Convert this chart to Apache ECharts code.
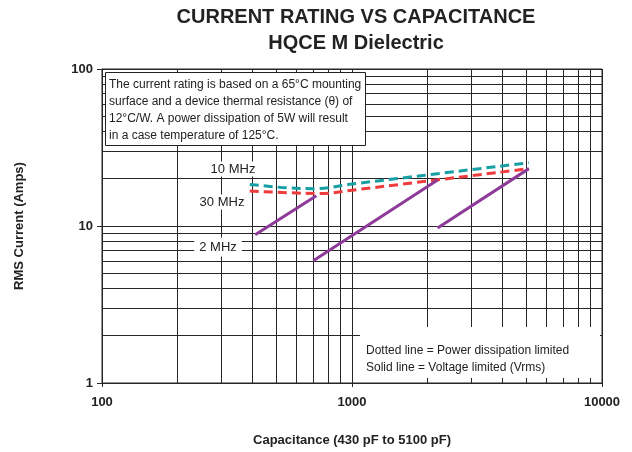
<!DOCTYPE html>
<html>
<head>
<meta charset="UTF-8">
<title>Current rating vs capacitance</title>
<style>
  html, body { margin: 0; padding: 0; background: #fff; }
  #container { width: 632px; height: 452px; }
</style>
</head>
<body>
<div id="container"></div>
<script src="https://cdn.jsdelivr.net/npm/echarts@6/dist/echarts.min.js"></script>
<script>
var FONT = '"Liberation Sans", Arial, sans-serif';
var GRID_COLOR = '#262626';

// capacitance (pF) -> RMS current (A)
var tenMHz    = [[390, 18.4], [550, 17.5], [720, 17.3], [1000, 18.5], [5100, 25.3]];
var thirtyMHz = [[390, 16.7], [550, 16.3], [750, 16.1], [1000, 16.9], [5100, 23.2]];
var twoMHzA   = [[410, 8.8], [720, 15.6]];
var twoMHzB   = [[700, 6.0], [2200, 19.6]];
var twoMHzC   = [[2200, 9.7], [5100, 23.2]];

// minor grid lines of the log-log paper
var xMinor = [200, 300, 400, 500, 600, 700, 800, 900, 2000, 3000, 4000, 5000, 6000, 7000, 8000, 9000];
var yMinor = [2, 3, 4, 5, 6, 7, 8, 9, 20, 30, 40, 50, 60, 70, 80, 90];

var noteLines = [
    'The current rating is based on a 65°C mounting',
    'surface and a device thermal resistance (θ) of',
    '12°C/W. A power dissipation of 5W will result',
    'in a case temperature of 125°C.'
];
var keyLines = [
    'Dotted line = Power dissipation limited',
    'Solid line = Voltage limited (Vrms)'
];

var myChart = echarts.init(document.getElementById('container'), null, { renderer: 'canvas' });

function dashed(name, data, color) {
    return {
        name: name,
        type: 'line',
        data: data,
        smooth: 0.35,
        showSymbol: false,
        z: 20,
        lineStyle: { color: color, width: 3, type: [9, 5] }
    };
}
function solid(data) {
    return {
        type: 'line',
        data: data,
        showSymbol: false,
        z: 20,
        lineStyle: { color: '#8d3a98', width: 3 }
    };
}

var gridMarks = [];
xMinor.forEach(function (v) { gridMarks.push({ xAxis: v }); });
yMinor.forEach(function (v) { gridMarks.push({ yAxis: v }); });

myChart.setOption({
    animation: false,
    textStyle: { fontFamily: FONT },
    grid: {
        left: 102, right: 30, top: 69, bottom: 67,
        show: true, borderColor: GRID_COLOR, borderWidth: 1
    },
    xAxis: {
        type: 'log',
        logBase: 10,
        min: 100,
        max: 10000,
        name: 'Capacitance (430 pF to 5100 pF)',
        nameLocation: 'middle',
        nameGap: 51,
        nameTextStyle: { fontSize: 13, fontWeight: 'bold', color: '#222', fontFamily: FONT },
        axisLine: { show: true, lineStyle: { color: GRID_COLOR, width: 1 } },
        axisTick: { show: true, length: 4, lineStyle: { color: GRID_COLOR } },
        axisLabel: {
            fontSize: 13, fontWeight: 'bold', color: '#222', margin: 13, fontFamily: FONT,
            formatter: function (v) { return String(Math.round(v)); }
        },
        splitLine: { show: true, lineStyle: { color: GRID_COLOR, width: 1 } }
    },
    yAxis: {
        type: 'log',
        logBase: 10,
        min: 1,
        max: 100,
        name: 'RMS Current (Amps)',
        nameLocation: 'middle',
        nameGap: 76,
        nameRotate: 90,
        nameTextStyle: { fontSize: 13, fontWeight: 'bold', color: '#222', fontFamily: FONT },
        axisLine: { show: true, lineStyle: { color: GRID_COLOR, width: 1 } },
        axisTick: { show: true, length: 5, lineStyle: { color: GRID_COLOR } },
        axisLabel: {
            fontSize: 13, fontWeight: 'bold', color: '#222', margin: 9, fontFamily: FONT,
            formatter: function (v) { return String(Math.round(v)); }
        },
        splitLine: { show: true, lineStyle: { color: GRID_COLOR, width: 1 } }
    },
    series: [
        {
            type: 'line',
            data: [[100, 1]],
            showSymbol: false,
            silent: true,
            z: 1,
            lineStyle: { opacity: 0 },
            markLine: {
                silent: true,
                symbol: 'none',
                label: { show: false },
                lineStyle: { color: GRID_COLOR, width: 1, type: 'solid' },
                emphasis: { disabled: true },
                data: gridMarks
            }
        },
        dashed('10 MHz', tenMHz, '#169fa4'),
        dashed('30 MHz', thirtyMHz, '#ee3b3b'),
        solid(twoMHzA),
        solid(twoMHzB),
        solid(twoMHzC)
    ],
    graphic: [
        {
            type: 'text', z: 30, x: 356, y: 17,
            style: { text: 'CURRENT RATING VS CAPACITANCE', font: 'bold 20px ' + FONT, fill: '#222', align: 'center', verticalAlign: 'middle' }
        },
        {
            type: 'text', z: 30, x: 356, y: 43,
            style: { text: 'HQCE M Dielectric', font: 'bold 20px ' + FONT, fill: '#222', align: 'center', verticalAlign: 'middle' }
        },
        {
            type: 'rect', z: 30,
            shape: { x: 105.5, y: 72.5, width: 260, height: 73 },
            style: { fill: '#fff', stroke: '#222', lineWidth: 1 }
        },
        {
            type: 'text', z: 31, x: 109, y: 76,
            style: { text: noteLines.join('\n'), font: '12px ' + FONT, fill: '#222', lineHeight: 17 }
        },
        {
            type: 'rect', z: 30,
            shape: { x: 360, y: 327, width: 240, height: 51 },
            style: { fill: '#fff' }
        },
        {
            type: 'text', z: 31, x: 366, y: 342,
            style: { text: keyLines.join('\n'), font: '12px ' + FONT, fill: '#222', lineHeight: 17 }
        },
        {
            type: 'text', z: 31, x: 233, y: 169,
            style: { text: '10 MHz', font: '13px ' + FONT, fill: '#222', align: 'center', verticalAlign: 'middle', backgroundColor: '#fff', padding: [1, 2] }
        },
        {
            type: 'text', z: 31, x: 222, y: 202,
            style: { text: '30 MHz', font: '13px ' + FONT, fill: '#222', align: 'center', verticalAlign: 'middle', backgroundColor: '#fff', padding: [1, 2] }
        },
        {
            type: 'text', z: 31, x: 218, y: 247,
            style: { text: '2 MHz', font: '13px ' + FONT, fill: '#222', align: 'center', verticalAlign: 'middle', backgroundColor: '#fff', padding: [3, 5] }
        }
    ]
});
</script>
</body>
</html>
